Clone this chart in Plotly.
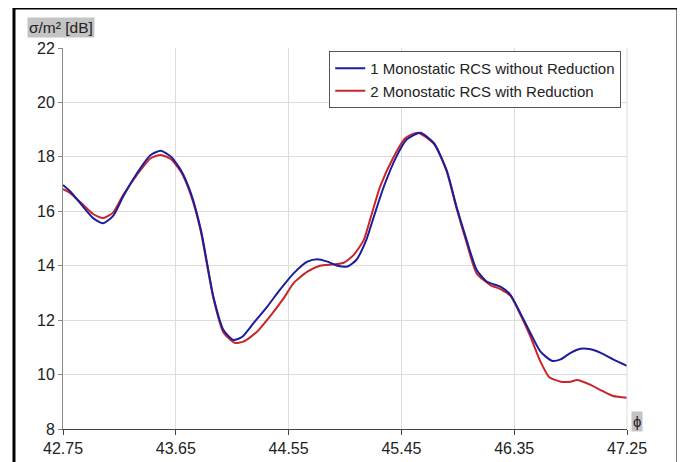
import plotly.graph_objects as go

# ---- data ----
phi_blue = [42.75, 42.81, 42.91, 42.99, 43.07, 43.15, 43.23, 43.34, 43.45, 43.53,
            43.61, 43.69, 43.77, 43.85, 43.95, 44.03, 44.11, 44.18, 44.27, 44.38,
            44.48, 44.59, 44.70, 44.78, 44.86, 44.94, 45.02, 45.09, 45.17, 45.23,
            45.31, 45.41, 45.49, 45.60, 45.71, 45.81, 45.89, 45.97, 46.05, 46.13,
            46.24, 46.32, 46.40, 46.48, 46.56, 46.65, 46.72, 46.80, 46.88, 46.96,
            47.04, 47.14, 47.25]
rcs_without = [16.97, 16.72, 16.17, 15.75, 15.56, 15.83, 16.54, 17.40, 18.07, 18.22,
               18.01, 17.52, 16.67, 15.32, 12.86, 11.64, 11.27, 11.39, 11.89, 12.50,
               13.11, 13.72, 14.15, 14.24, 14.15, 14.00, 13.97, 14.21, 14.95, 15.80,
               16.91, 18.01, 18.63, 18.89, 18.50, 17.52, 16.17, 14.95, 13.85, 13.42,
               13.23, 12.93, 12.25, 11.52, 10.84, 10.51, 10.56, 10.80, 10.95, 10.93,
               10.80, 10.56, 10.32]

phi_red = [42.75, 42.81, 42.91, 42.99, 43.07, 43.15, 43.23, 43.34, 43.45, 43.53,
           43.61, 43.69, 43.77, 43.85, 43.95, 44.03, 44.12, 44.19, 44.30, 44.40,
           44.51, 44.59, 44.70, 44.80, 44.91, 44.99, 45.07, 45.15, 45.21, 45.28,
           45.39, 45.48, 45.58, 45.71, 45.81, 45.89, 45.97, 46.05, 46.16, 46.24,
           46.32, 46.40, 46.48, 46.56, 46.63, 46.72, 46.80, 46.85, 46.96, 47.04,
           47.14, 47.25]
rcs_with = [16.81, 16.66, 16.24, 15.90, 15.75, 15.95, 16.60, 17.34, 17.95, 18.07,
            17.92, 17.46, 16.60, 15.25, 12.80, 11.55, 11.17, 11.21, 11.58, 12.13,
            12.80, 13.36, 13.78, 14.00, 14.05, 14.11, 14.40, 14.95, 15.85, 16.91,
            18.01, 18.68, 18.89, 18.48, 17.48, 16.10, 14.85, 13.72, 13.29, 13.14,
            12.89, 12.20, 11.39, 10.47, 9.90, 9.74, 9.74, 9.80, 9.62, 9.43,
            9.21, 9.15]

x_ticks = [42.75, 43.65, 44.55, 45.45, 46.35, 47.25]
y_ticks = [8, 10, 12, 14, 16, 18, 20, 22]

name_blue = "1 Monostatic RCS without Reduction"
name_red = "2 Monostatic RCS with Reduction"

FONT = "Liberation Sans, Arial, sans-serif"

fig = go.Figure()
fig.add_trace(go.Scatter(x=phi_red, y=rcs_with, mode="lines", name=name_red,
                         line=dict(color="#c8262a", width=2, shape="spline", smoothing=0.6),
                         legendrank=2))
fig.add_trace(go.Scatter(x=phi_blue, y=rcs_without, mode="lines", name=name_blue,
                         line=dict(color="#1c1c9c", width=2, shape="spline", smoothing=0.6),
                         legendrank=1))

# the page body adds an 8px margin, so the figure is 8px smaller than the window
fig.update_layout(
    width=677, height=454,
    margin=dict(l=55, r=58, t=40, b=33, autoexpand=False),
    paper_bgcolor="white", plot_bgcolor="white",
    font=dict(family=FONT, size=15.5, color="#222222"),
    showlegend=True,
    legend=dict(x=0.472, y=0.992, xanchor="left", yanchor="top",
                bgcolor="white", bordercolor="#555555", borderwidth=1,
                font=dict(size=15, color="#222222"),
                tracegroupgap=0, itemwidth=30),
    xaxis=dict(range=[42.75, 47.25], tickvals=x_ticks,
               ticktext=[f"{v:.2f}" for v in x_ticks],
               showgrid=True, gridcolor="#dddddd", gridwidth=1,
               showline=True, linecolor="#444444", linewidth=1,
               ticks="outside", ticklen=5, tickcolor="#444444",
               zeroline=False, tickfont=dict(size=16)),
    yaxis=dict(range=[8, 22], tickvals=y_ticks,
               showgrid=True, gridcolor="#dddddd", gridwidth=1,
               showline=True, linecolor="#888888", linewidth=1,
               ticks="outside", ticklen=4, tickcolor="#888888",
               zeroline=False, tickfont=dict(size=16), ticklabelstandoff=0),
    shapes=[
        dict(type="rect", xref="paper", yref="paper",
             x0=-0.0869, x1=1.0904, y0=-0.095, y1=1.105,
             line=dict(color="black", width=3), fillcolor="rgba(0,0,0,0)", layer="below"),
        dict(type="line", xref="paper", yref="paper", x0=1, x1=1, y0=0, y1=1,
             line=dict(color="#dddddd", width=1)),
    ],
    annotations=[
        dict(text="σ/m² [dB]", xref="paper", yref="paper",
             x=-0.064, y=1.081, xanchor="left", yanchor="top", showarrow=False,
             bgcolor="#c4c4c4", font=dict(size=15.5, color="#222222"), borderpad=1),
        dict(text="ϕ", xref="paper", yref="paper",
             x=1.007, y=0.047, xanchor="left", yanchor="top", showarrow=False,
             bgcolor="#c4c4c4", font=dict(size=15, color="#222222"), borderpad=1),
    ],
)

fig.write_html("out.html")
